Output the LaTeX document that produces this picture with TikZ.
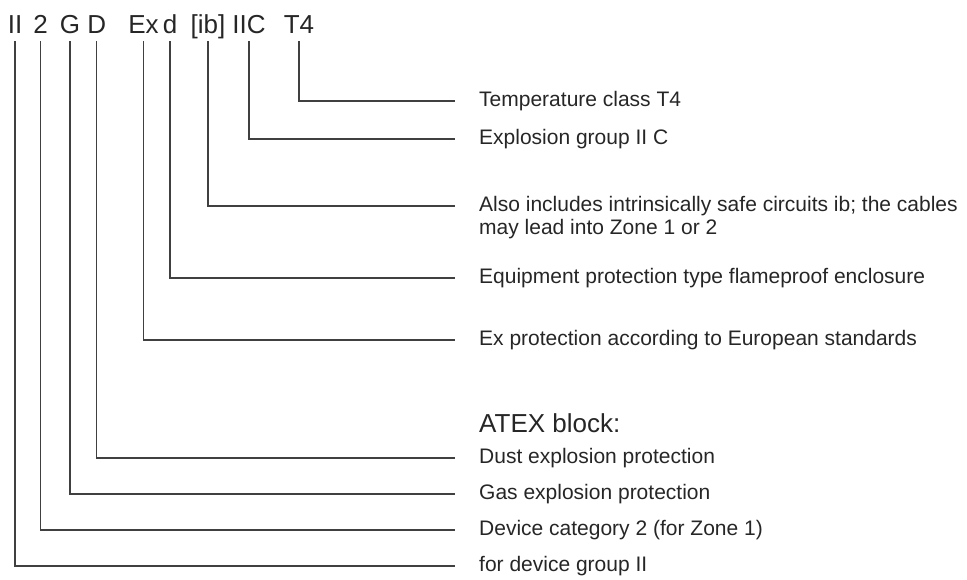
\documentclass[tikz,border=0pt]{standalone}
\usepackage{fontspec}
\setmainfont{Liberation Sans}
\usepackage{xcolor}
\usetikzlibrary{positioning}

\begin{document}
\begin{tikzpicture}[
    x=1pt, y=-1pt,
    code part/.style = {
        anchor=base,
        inner sep=0pt,
        text height=18.5pt,
        text depth=8pt,
        font=\fontsize{26}{30}\selectfont,
        text=black!85
    },
    meaning/.style = {
        anchor=west,
        inner sep=0pt,
        align=left,
        font=\fontsize{21}{23}\selectfont,
        text=black!85
    },
    lead/.style = {draw=black!75, line width=1.4pt, shorten >=24pt}
]
\useasboundingbox (0,0) rectangle (967,579);

% marking code
\node [code part] (grp)  at (15,33)  {II};
\node [code part] (cat)  at (40.7,33) {2};
\node [code part] (gas)  at (70,33)  {G};
\node [code part] (dust) at (96.7,33) {D};
\node [code part] (ex)   at (143.5,33) {Ex};
\node [code part] (prot) at (170,33) {d};
\node [code part] (ib)   at (208,33) {[ib]};
\node [code part] (expl) at (249,33) {IIC};
\node [code part] (temp) at (299,33) {T4};

% meanings
\node [meaning] (lbltemp) at (479,101) {Temperature class T4};
\node [meaning] (lblexpl) at (479,139) {Explosion group II C};
\node [meaning, anchor=north west] (lblib) at (479,196)
    {Also includes intrinsically safe circuits ib; the cables\\may lead into Zone 1 or 2};
\node [meaning] (lblprot) at (479,278) {Equipment protection type flameproof enclosure};
\node [meaning] (lblex)   at (479,340) {Ex protection according to European standards};
\node [meaning, font=\fontsize{26}{30}\selectfont] (atex) at (479,423) {ATEX block:};
\node [meaning] (lbldust) at (479,458) {Dust explosion protection};
\node [meaning] (lblgas)  at (479,494) {Gas explosion protection};
\node [meaning] (lblcat)  at (479,530) {Device category 2 (for Zone 1)};
\node [meaning] (lblgrp)  at (479,566) {for device group II};

% leaders
\draw [lead] (temp.south) |- (lbltemp.west);
\draw [lead] (expl.south) |- (lblexpl.west);
\draw [lead] (ib.south) |- ([yshift=-10pt]lblib.north west);
\draw [lead] (prot.south) |- (lblprot.west);
\draw [lead] (ex.south) |- (lblex.west);
\draw [lead] (dust.south) |- (lbldust.west);
\draw [lead] (gas.south) |- (lblgas.west);
\draw [lead] (cat.south) |- (lblcat.west);
\draw [lead] (grp.south) |- (lblgrp.west);

\end{tikzpicture}
\end{document}
